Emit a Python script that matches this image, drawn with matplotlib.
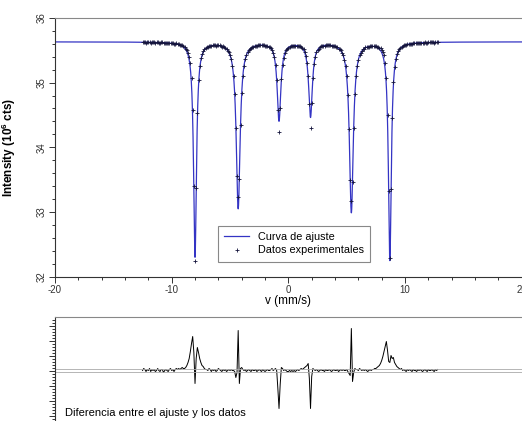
import numpy as np
import matplotlib
matplotlib.use("Agg")
import matplotlib.pyplot as plt
from matplotlib.ticker import MultipleLocator, AutoMinorLocator

plt.rcParams["font.family"] = ["Liberation Sans", "DejaVu Sans"]
plt.rcParams["mathtext.default"] = "regular"
plt.rcParams["axes.unicode_minus"] = False

# sextet (10^6 cts, mm/s)
baseline = 35.63
line_pos = [-8.0, -4.3, -0.8, 1.9, 5.4, 8.7]
line_depth = [3.32, 2.57, 1.21, 1.15, 2.63, 3.37]
line_width = [0.30, 0.40, 0.38, 0.38, 0.40, 0.30]

# channel velocities, step 0.1 mm/s
v_data = np.linspace(-12.5, 12.8, 254)

# data - fit, in units of ~4.5e3 cts
diff = [
    0, 2, 1, -1, 1, 0, 2, -1, 1, 0,
    1, -1, 0, 2, 0, -1, 1, 1, -2, 0,
    1, 0, -1, 1, 2, 0, 1, -1, 1, 2,
    1, 2, 1, 2, 3, 2, 2, 3, 5, 8,
    12, 19, 27, 34, 18, -13, 12, 23, 18, 12,
    8, 5, 4, 2, 1, 1, 0, 2, 1, -1,
    1, 0, 1, -1, 0, 2, 1, 0, -1, 1,
    0, 1, -1, 0, 1, 0, 1, 0, 0, -1,
    -7, -2, 40, -13, 2, 3, 1, 0, 1, -1,
    0, 1, 0, -1, 1, 0, 0, 1, -1, 0,
    1, 0, -1, 1, 0, -1, 0, 1, 0, 0,
    1, 2, 0, 1, 2, 0, -18, -38, -14, 3,
    2, 0, 1, 0, -1, -1, 0, -1, 0, -1,
    0, -1, 0, 1, 0, 1, 2, 1, 2, 3,
    4, 5, 7, -8, -38, -6, 2, 1, 0, 1,
    0, -1, 0, 1, 0, 0, -1, 1, 0, 0,
    1, 0, -1, 0, 1, 0, 0, 1, -1, 0,
    1, 0, 1, 0, 0, 1, -1, -3, -5, 42,
    -11, -2, 2, 1, 1, 0, 2, 1, 0, 1,
    0, 1, 0, -1, 0, 1, 0, 1, 1, 2,
    2, 3, 4, 5, 7, 10, 14, 19, 24, 29,
    20, 9, 8, 15, 12, 13, 8, 6, 4, 3,
    2, 1, 2, 0, 1, 0, -1, 1, 0, 1,
    0, -1, 1, 0, 0, -1, 1, 0, 1, 0,
    -1, 0, 1, 0, -1, 1, 0, 0, 1, 0,
    -1, 1, 0, 1,
]
DIFF_SCALE = 1 / 224.0


def sextet(v):
    y = np.full_like(v, baseline)
    for p, d, w in zip(line_pos, line_depth, line_width):
        hw = w / 2
        y = y - d * hw**2 / ((v - p) ** 2 + hw**2)
    return y


v_fit = np.linspace(-20, 20, 4001)
fit = sextet(v_fit)
data = sextet(v_data) + np.array(diff) * DIFF_SCALE

fig = plt.figure(figsize=(5.22, 4.21), dpi=100)

# top panel
ax = fig.add_axes([0.1054, 0.3428, 0.894, 0.6147])
ax.plot(v_fit, fit, color="#3434c4", lw=0.9, label="Curva de ajuste", zorder=2)
ax.plot(v_data, data, "+", ms=2.6, mew=0.6, color="#14143c",
        label="Datos experimentales", zorder=3)
ax.set_xlim(-20, 20)
ax.set_ylim(32, 36)

ax.xaxis.set_major_locator(MultipleLocator(10))
ax.xaxis.set_minor_locator(MultipleLocator(2))
ax.yaxis.set_major_locator(MultipleLocator(1))
ax.yaxis.set_minor_locator(MultipleLocator(0.2))
ax.tick_params(which="both", direction="out", colors="#333333",
               labelsize=7, width=0.7, top=False, right=False)
ax.tick_params(which="major", length=4, pad=2)
ax.tick_params(which="minor", length=2)
plt.setp(ax.get_yticklabels(), rotation=90, va="center")

ax.spines["right"].set_visible(False)
ax.spines["top"].set_color("#888888")
ax.spines["left"].set_color("#333333")
ax.spines["bottom"].set_color("#333333")
for s in ax.spines.values():
    s.set_linewidth(0.8)

ax.set_xlabel("v (mm/s)", fontsize=8.5, labelpad=0)
ax.set_ylabel("Intensity (10$^6$ cts)", fontsize=8.5, fontweight="bold")
ax.yaxis.set_label_coords(-0.08, 0.5)

leg = ax.legend(loc="lower left", bbox_to_anchor=(0.349, 0.057),
                borderaxespad=0, fontsize=7.8, fancybox=False,
                edgecolor="#888888", framealpha=1, handlelength=2.3,
                borderpad=0.6, labelspacing=0.3)
leg.get_frame().set_linewidth(0.8)

# bottom panel: residuals
ax2 = fig.add_axes([0.1054, 0.0, 0.894, 0.247])
ax2.plot(v_data, diff, color="black", lw=0.7)
ax2.axhline(1.5, color="#aaaaaa", lw=0.6)
ax2.axhline(-1.5, color="#aaaaaa", lw=0.6)
ax2.set_xlim(-20, 20)
ax2.set_ylim(-50.5, 53.5)
ax2.set_xticks([])
ax2.yaxis.set_major_locator(MultipleLocator(15))
ax2.yaxis.set_minor_locator(AutoMinorLocator(5))
ax2.tick_params(which="both", direction="out", colors="#333333",
                labelleft=False, width=0.7)
ax2.tick_params(which="major", length=4)
ax2.tick_params(which="minor", length=2)
ax2.spines["right"].set_visible(False)
ax2.spines["bottom"].set_visible(False)
ax2.spines["top"].set_color("#888888")
ax2.spines["left"].set_color("#333333")
ax2.text(0.021, 0.077, "Diferencia entre el ajuste y los datos",
         transform=ax2.transAxes, fontsize=8, va="center", ha="left")

fig.savefig("out.png", dpi=100)
